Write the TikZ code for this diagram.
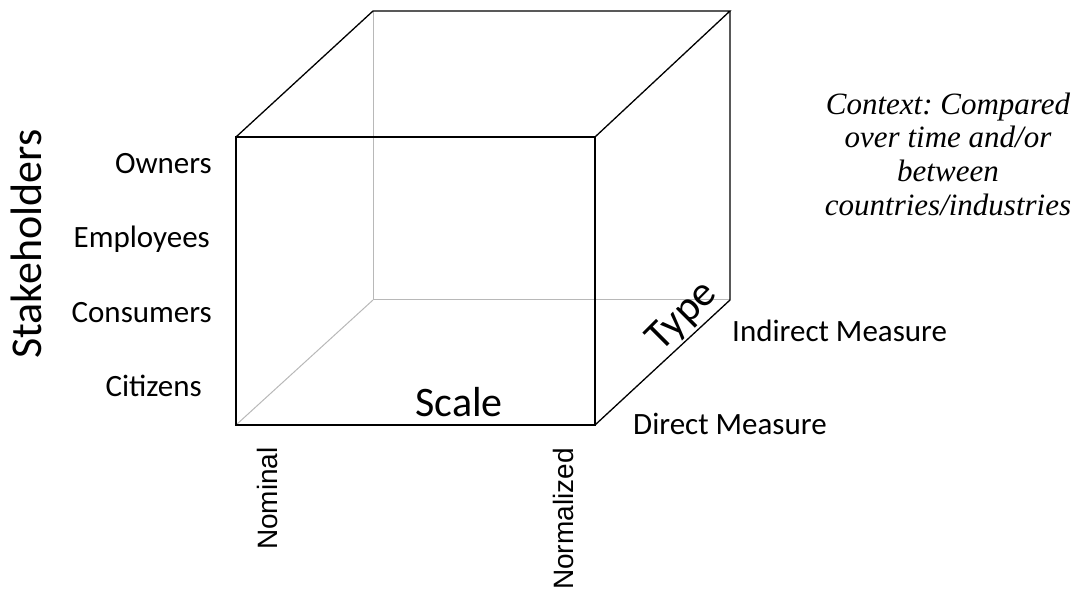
\documentclass[tikz,border=0pt]{standalone}
\usepackage{fontspec}
\setmainfont{Carlito}
\newfontfamily\arialfont{Liberation Sans}
\newfontfamily\timesfont{Liberation Serif}
\frenchspacing
\begin{document}
\begin{tikzpicture}[x=1pt,y=1pt,
  edge/.style={draw=black, line width=1.3pt},
  hidden/.style={draw=black!28, line width=1pt},
  lbl/.style={inner sep=0pt, font=\fontsize{31}{37}\selectfont},
  big/.style={inner sep=0pt, font=\fontsize{42}{48}\selectfont},
  axlbl/.style={inner sep=0pt, font=\arialfont\fontsize{28}{34}\selectfont},
  ctx/.style={inner sep=0pt, align=center, font=\timesfont\itshape\fontsize{31}{33.7}\selectfont}]
\useasboundingbox (0,0) rectangle (1082,592);
% cube corners
\coordinate (A) at (236,455);
\coordinate (B) at (595,455);
\coordinate (C) at (595,167);
\coordinate (D) at (236,167);
\coordinate (E) at (373,581);
\coordinate (F) at (730,581);
\coordinate (G) at (730,292);
\coordinate (H) at (373,292);
% hidden edges
\draw[hidden] (E) -- (H);
\draw[hidden] (H) -- (G);
\draw[hidden] (D) -- (H);
% visible edges
\draw[edge] (A) -- (B) -- (C) -- (D) -- cycle;
\draw[edge] (A) -- (E) -- (F) -- (B);
\draw[edge] (F) -- (G) -- (C);
% labels
\node[inner sep=0pt, font=\fontsize{44}{50}\selectfont, rotate=90, anchor=base] (stake) at (42,348) {Stakeholders};
\node[lbl, anchor=base east] (own) at (212,418) {Owners};
\node[lbl, anchor=base east] (emp) at (210,344) {Employees};
\node[lbl, anchor=base east] (con) at (212,269) {Consumers};
\node[lbl, anchor=base east] (cit) at (202,195) {Citizens};
\node[big, anchor=base] (scale) at (459,175) {Scale};
\node[big, rotate=45, anchor=base] (type) at (690,268) {Type};
\node[lbl, anchor=base west] (ind) at (732,250) {Indirect Measure};
\node[lbl, anchor=base west] (dir) at (633,157) {Direct Measure};
\node[axlbl, rotate=90, anchor=base east] (nom) at (277,145) {Nominal};
\node[axlbl, rotate=90, anchor=base east] (norm) at (573,144) {Normalized};
\node[ctx] (context) at (948,438) {Context: Compared\\over time and/or\\between\\countries/industries};
\end{tikzpicture}
\end{document}
